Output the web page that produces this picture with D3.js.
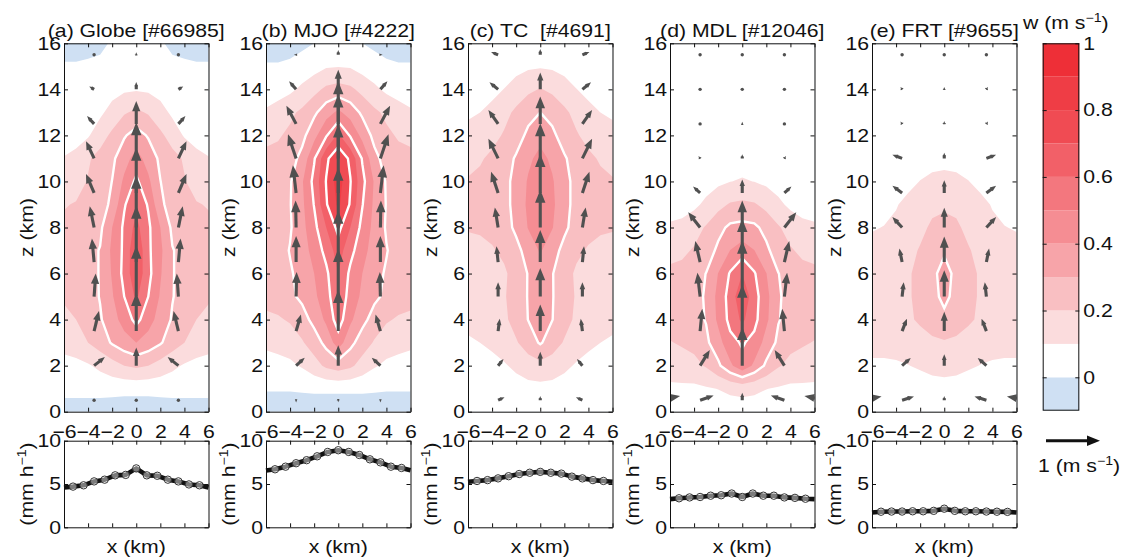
<!DOCTYPE html>
<html>
<head>
<meta charset="utf-8">
<title>Composite updraft cross-sections</title>
<script src="https://cdnjs.cloudflare.com/ajax/libs/d3/7.8.5/d3.min.js"></script>
<style>
  body { margin: 0; background: #fff; }
  svg text { font-family: "Liberation Sans", Arial, Helvetica, sans-serif; fill: #111; }
</style>
</head>
<body>
<svg id="fig" width="1126" height="557"></svg>
<script>
// ---- data -------------------------------------------------------------
// vertical velocity w (m/s) on a half grid, x = 0..6 km (field is mirrored), z = 0..16 km
const gridX = [0, 1, 2, 3, 4, 5, 6];
const gridZ = [0, 1, 2, 3, 4, 5, 6, 7, 8, 9, 10, 11, 12, 13, 14, 15, 16];

const wGlobe = [
  [-0.06, -0.06, -0.06, -0.06, -0.06, -0.06, -0.06],
  [0.03, 0.03, 0.035, 0.04, 0.04, 0.04, 0.04],
  [0.22, 0.20, 0.16, 0.12, 0.09, 0.07, 0.06],
  [0.40, 0.36, 0.31, 0.25, 0.20, 0.16, 0.14],
  [0.53, 0.44, 0.36, 0.29, 0.24, 0.20, 0.18],
  [0.62, 0.50, 0.39, 0.305, 0.26, 0.23, 0.21],
  [0.68, 0.53, 0.41, 0.305, 0.27, 0.24, 0.22],
  [0.69, 0.52, 0.42, 0.305, 0.27, 0.24, 0.22],
  [0.63, 0.52, 0.40, 0.28, 0.24, 0.22, 0.215],
  [0.58, 0.49, 0.32, 0.26, 0.22, 0.205, 0.195],
  [0.52, 0.42, 0.302, 0.24, 0.205, 0.17, 0.15],
  [0.44, 0.36, 0.28, 0.23, 0.19, 0.13, 0.105],
  [0.34, 0.29, 0.22, 0.16, 0.09, 0.06, 0.05],
  [0.22, 0.19, 0.14, 0.08, 0.05, 0.03, 0.02],
  [0.09, 0.085, 0.06, 0.04, 0.03, 0.02, 0.01],
  [0.04, 0.04, 0.03, 0.02, 0.015, 0.01, 0.01],
  [0.02, 0.02, 0.01, -0.02, -0.03, -0.04, -0.04]
];
const wMJO = [
  [-0.07, -0.07, -0.07, -0.07, -0.07, -0.07, -0.07],
  [0.02, 0.02, 0.02, 0.015, 0.01, 0.01, 0.01],
  [0.25, 0.22, 0.16, 0.11, 0.08, 0.07, 0.06],
  [0.45, 0.33, 0.25, 0.19, 0.15, 0.13, 0.12],
  [0.55, 0.42, 0.33, 0.26, 0.21, 0.19, 0.19],
  [0.58, 0.46, 0.38, 0.32, 0.28, 0.24, 0.215],
  [0.60, 0.48, 0.40, 0.33, 0.29, 0.25, 0.23],
  [0.65, 0.53, 0.44, 0.35, 0.305, 0.26, 0.24],
  [0.73, 0.60, 0.47, 0.37, 0.29, 0.26, 0.25],
  [0.82, 0.69, 0.505, 0.38, 0.295, 0.26, 0.25],
  [0.85, 0.705, 0.53, 0.39, 0.29, 0.25, 0.24],
  [0.78, 0.68, 0.49, 0.33, 0.26, 0.23, 0.22],
  [0.62, 0.49, 0.37, 0.27, 0.22, 0.19, 0.18],
  [0.42, 0.36, 0.28, 0.22, 0.18, 0.14, 0.11],
  [0.24, 0.22, 0.17, 0.12, 0.08, 0.06, 0.06],
  [0.095, 0.09, 0.06, 0.04, 0.02, 0.01, 0.01],
  [0.02, 0.015, 0.0, -0.02, -0.04, -0.05, -0.05]
];
const wTC = [
  [0.03, 0.03, 0.02, 0.02, 0.02, 0.02, 0.02],
  [0.07, 0.07, 0.06, 0.05, 0.05, 0.04, 0.04],
  [0.17, 0.15, 0.12, 0.09, 0.07, 0.06, 0.05],
  [0.31, 0.25, 0.19, 0.15, 0.12, 0.10, 0.09],
  [0.34, 0.302, 0.24, 0.18, 0.15, 0.13, 0.12],
  [0.35, 0.305, 0.25, 0.19, 0.16, 0.14, 0.13],
  [0.37, 0.305, 0.24, 0.185, 0.17, 0.15, 0.14],
  [0.41, 0.34, 0.27, 0.22, 0.19, 0.18, 0.18],
  [0.46, 0.405, 0.32, 0.26, 0.23, 0.21, 0.205],
  [0.48, 0.42, 0.33, 0.27, 0.25, 0.23, 0.22],
  [0.47, 0.41, 0.33, 0.27, 0.24, 0.22, 0.205],
  [0.43, 0.38, 0.31, 0.26, 0.22, 0.19, 0.18],
  [0.37, 0.32, 0.26, 0.21, 0.17, 0.14, 0.12],
  [0.30, 0.27, 0.22, 0.17, 0.13, 0.10, 0.09],
  [0.205, 0.18, 0.14, 0.102, 0.07, 0.05, 0.05],
  [0.09, 0.085, 0.07, 0.05, 0.04, 0.03, 0.03],
  [0.05, 0.05, 0.04, 0.03, 0.02, 0.02, 0.02]
];
const wMDL = [
  [0.05, 0.05, 0.04, 0.03, 0.03, 0.02, 0.02],
  [0.13, 0.12, 0.102, 0.09, 0.08, 0.08, 0.08],
  [0.47, 0.38, 0.28, 0.21, 0.17, 0.16, 0.15],
  [0.51, 0.47, 0.36, 0.28, 0.23, 0.21, 0.195],
  [0.62, 0.53, 0.42, 0.305, 0.27, 0.255, 0.245],
  [0.68, 0.54, 0.43, 0.31, 0.27, 0.255, 0.25],
  [0.60, 0.51, 0.402, 0.302, 0.26, 0.23, 0.22],
  [0.45, 0.402, 0.32, 0.25, 0.21, 0.18, 0.17],
  [0.33, 0.32, 0.27, 0.21, 0.16, 0.12, 0.11],
  [0.22, 0.21, 0.17, 0.12, 0.08, 0.07, 0.07],
  [0.11, 0.098, 0.08, 0.06, 0.05, 0.04, 0.04],
  [0.05, 0.05, 0.04, 0.03, 0.03, 0.03, 0.03],
  [0.03, 0.03, 0.03, 0.02, 0.02, 0.02, 0.02],
  [0.02, 0.02, 0.02, 0.02, 0.02, 0.02, 0.02],
  [0.02, 0.02, 0.02, 0.02, 0.02, 0.02, 0.02],
  [0.01, 0.01, 0.01, 0.01, 0.01, 0.01, 0.01],
  [0.01, 0.01, 0.01, 0.01, 0.01, 0.01, 0.01]
];
const wFRT = [
  [0.04, 0.04, 0.04, 0.03, 0.03, 0.03, 0.03],
  [0.06, 0.06, 0.06, 0.06, 0.06, 0.06, 0.06],
  [0.14, 0.13, 0.11, 0.098, 0.09, 0.09, 0.09],
  [0.19, 0.18, 0.16, 0.14, 0.13, 0.12, 0.12],
  [0.28, 0.25, 0.215, 0.185, 0.15, 0.14, 0.14],
  [0.32, 0.275, 0.225, 0.19, 0.16, 0.15, 0.15],
  [0.33, 0.28, 0.225, 0.19, 0.16, 0.15, 0.15],
  [0.29, 0.26, 0.21, 0.165, 0.14, 0.13, 0.12],
  [0.24, 0.22, 0.17, 0.14, 0.115, 0.102, 0.095],
  [0.18, 0.17, 0.14, 0.12, 0.095, 0.08, 0.07],
  [0.13, 0.12, 0.102, 0.08, 0.06, 0.05, 0.05],
  [0.07, 0.07, 0.06, 0.05, 0.04, 0.04, 0.04],
  [0.04, 0.04, 0.04, 0.03, 0.03, 0.03, 0.03],
  [0.03, 0.03, 0.03, 0.03, 0.03, 0.03, 0.03],
  [0.03, 0.03, 0.03, 0.03, 0.03, 0.03, 0.03],
  [0.02, 0.02, 0.02, 0.02, 0.02, 0.02, 0.02],
  [0.02, 0.02, 0.02, 0.02, 0.02, 0.02, 0.02]
];

// shading levels and their colours (first colour = below 0)
const levels = [0, 0.1, 0.2, 0.3, 0.4, 0.5, 0.6, 0.7, 0.8, 0.9];
const levelColors = ["#cfe0f3", "#ffffff", "#fbdcdd", "#f9bfc2", "#f7a4a9", "#f58d93",
                     "#f3777e", "#f26068", "#f04b53", "#ef3d45", "#ee2f37"];
const whiteLines = [0.3, 0.5, 0.7];
const barTicks = [0, 0.2, 0.4, 0.6, 0.8, 1];

const arrowX = [-7, -3.5, 0, 3.5, 7];
const arrowZ = [0.5, 2, 3.5, 5, 6.5, 8, 9.5, 11, 12.5, 14, 15.5];
const uGlobe = [0, -0.2, -0.09, -0.03, 0.04, 0.08, 0.15, 0.15, 0.13, 0.09, 0];      // at x = +3.5
const uMJO   = [0, -0.16, -0.09, -0.01, 0, 0.01, 0.06, 0.15, 0.18, 0.13, 0.04];
const uTC    = [-0.12, -0.1, -0.03, 0, 0.03, 0.06, 0.13, 0.18, 0.18, 0.16, 0.13];
const uMDL   = [-0.25, -0.18, -0.04, 0.05, 0.09, 0.22, 0.13, 0.03, 0, 0, 0];
const uFRT   = [-0.22, -0.16, -0.09, -0.03, 0.05, 0.18, 0.18, 0.18, 0.03, 0.03, 0.01];
const uOutGlobe = [0, 0, 0, 0, 0, 0, 0, 0, 0, 0, 0];                               // at x = +7
const uOutMJO   = [0, 0, 0, 0, 0, 0, 0, 0, 0, 0, 0];
const uOutTC    = [0, 0, 0, 0, 0, 0, 0, 0, 0, 0, 0];
const uOutMDL   = [-0.41, -0.12, 0, 0, 0, 0, 0, 0, 0, 0, 0];
const uOutFRT   = [-0.40, -0.10, 0, 0, 0, 0, 0, 0, 0, 0, 0];

// surface rain rate (mm/h)
const rainX = [-6, -5.25, -4.375, -3.5, -2.625, -1.75, -0.875, 0, 0.875, 1.75, 2.625, 3.5, 4.375, 5.25, 6];
const rainGlobe = [4.6, 4.7, 4.85, 5.3, 5.5, 6.0, 6.05, 6.8, 6.0, 5.95, 5.5, 5.3, 4.95, 4.85, 4.6];
const rainMJO   = [6.55, 6.7, 7.0, 7.4, 7.75, 8.2, 8.7, 8.9, 8.7, 8.35, 7.85, 7.5, 7.0, 6.85, 6.6];
const rainTC    = [5.25, 5.35, 5.45, 5.65, 5.9, 6.15, 6.3, 6.4, 6.3, 6.2, 5.85, 5.65, 5.45, 5.35, 5.25];
const rainMDL   = [3.25, 3.35, 3.45, 3.5, 3.65, 3.7, 3.9, 3.5, 3.9, 3.65, 3.65, 3.45, 3.4, 3.3, 3.25];
const rainFRT   = [1.7, 1.8, 1.82, 1.82, 1.85, 1.85, 1.9, 2.15, 1.9, 1.85, 1.85, 1.82, 1.8, 1.78, 1.7];

const titles = ["(a) Globe [#66985]", "(b) MJO [#4222]", "(c) TC  [#4691]", "(d) MDL [#12046]", "(e) FRT [#9655]"];

const panels = [
  { w: wGlobe, u: uGlobe, uOut: uOutGlobe, rain: rainGlobe },
  { w: wMJO, u: uMJO, uOut: uOutMJO, rain: rainMJO },
  { w: wTC, u: uTC, uOut: uOutTC, rain: rainTC },
  { w: wMDL, u: uMDL, uOut: uOutMDL, rain: rainMDL },
  { w: wFRT, u: uFRT, uOut: uOutFRT, rain: rainFRT }
];

// ---- layout -------------------------------------------------------------
const panelLeft = [64, 266, 468, 670, 872];
const panelW = 144.5;
const topY = 43.3, botY = 411.7;
const rainTop = 440.7, rainBot = 527.3;
const SX = 1.18;          // the original font is wider than Liberation Sans
const U_PX = 54, W_PX = 82; // px per m/s for arrows
const arrowColor = "#505050";

const svg = d3.select("#fig");
const defs = svg.append("defs");

function styleAxis(sel) {
  sel.attr("font-size", 18).attr("font-family", null);
  sel.selectAll(".tick text").attr("transform", `scale(${SX},1)`);
  sel.selectAll(".tick line").attr("stroke", "#111");
  sel.select(".domain").attr("stroke", "#111");
}

function boxAxes(g, xs, ys, xTicks, yTicks, showX) {
  const [x0, x1] = xs.range(), [y0, y1] = ys.range();
  g.append("g").attr("transform", `translate(0,${y1})`)
    .call(d3.axisTop(xs).tickValues(xTicks).tickSizeInner(-4).tickSizeOuter(0).tickFormat(""))
    .call(styleAxis);
  const bx = d3.axisBottom(xs).tickValues(xTicks).tickSizeInner(-4).tickSizeOuter(0).tickPadding(13.3);
  if (!showX) bx.tickFormat("");
  g.append("g").attr("transform", `translate(0,${y0})`).call(bx).call(styleAxis);
  g.append("g").attr("transform", `translate(${x0},0)`)
    .call(d3.axisLeft(ys).tickValues(yTicks).tickSizeInner(-4).tickSizeOuter(0).tickPadding(2.5))
    .call(styleAxis);
  g.append("g").attr("transform", `translate(${x1},0)`)
    .call(d3.axisRight(ys).tickValues(yTicks).tickSizeInner(-4).tickSizeOuter(0).tickFormat(""))
    .call(styleAxis);
}

// bilinear value of the mirrored half grid
function wAt(w, x, z) {
  const ax = Math.min(Math.abs(x), gridX[gridX.length - 1]);
  const i = Math.min(d3.bisectRight(gridX, ax) - 1, gridX.length - 2);
  const j = Math.min(d3.bisectRight(gridZ, z) - 1, gridZ.length - 2);
  const fx = (ax - gridX[i]) / (gridX[i + 1] - gridX[i]);
  const fz = (z - gridZ[j]) / (gridZ[j + 1] - gridZ[j]);
  return (1 - fz) * ((1 - fx) * w[j][i] + fx * w[j][i + 1]) +
         fz * ((1 - fx) * w[j + 1][i] + fx * w[j + 1][i + 1]);
}

function drawArrow(g, x0, y0, dx, dy, color, width) {
  const len = Math.hypot(dx, dy);
  if (len < 2) {
    g.append("circle").attr("cx", x0).attr("cy", y0).attr("r", 1.7).attr("fill", color);
    return;
  }
  const hl = Math.min(13, Math.max(3.2, 0.38 * len + 1.5)), hw = hl * 0.8;
  const ux = dx / len, uy = dy / len;
  const bx = x0 + dx - ux * hl, by = y0 + dy - uy * hl;
  g.append("line").attr("x1", x0).attr("y1", y0).attr("x2", bx + ux).attr("y2", by + uy)
    .attr("stroke", color).attr("stroke-width", width);
  g.append("path")
    .attr("d", `M${x0 + dx},${y0 + dy}L${bx - uy * hw / 2},${by + ux * hw / 2}L${bx + uy * hw / 2},${by - ux * hw / 2}Z`)
    .attr("fill", color);
}

function rotLabel(x, y, parts) {
  const t = svg.append("text").attr("font-size", 18).attr("text-anchor", "middle")
    .attr("transform", `translate(${x},${y}) rotate(-90) scale(${SX},1)`);
  parts.forEach(p => t.append("tspan").text(p[0]).attr("font-size", p[1] || null).attr("dy", p[2] || null));
  return t;
}

panels.forEach((p, k) => {
  const left = panelLeft[k];
  const xs = d3.scaleLinear().domain([-6, 6]).range([left, left + panelW]);
  const zs = d3.scaleLinear().domain([0, 16]).range([botY, topY]);

  defs.append("clipPath").attr("id", "clip" + k).append("rect")
    .attr("x", xs(-6)).attr("y", zs(16)).attr("width", xs(6) - xs(-6)).attr("height", zs(0) - zs(16));
  const plot = svg.append("g").attr("clip-path", `url(#clip${k})`);

  // mirrored full grid, row-major in z
  const fullX = gridX.slice(1).reverse().map(d => -d).concat(gridX);
  const values = p.w.flatMap(row => row.slice(1).reverse().concat(row));
  const nx = fullX.length, nz = gridZ.length;
  const gx = d3.scaleLinear().domain([0.5, nx - 0.5]).range([xs(fullX[0]), xs(fullX[nx - 1])]);
  const gz = d3.scaleLinear().domain([0.5, nz - 0.5]).range([zs(gridZ[0]), zs(gridZ[nz - 1])]);
  const path = d3.geoPath(d3.geoTransform({ point(a, b) { this.stream.point(gx(a), gz(b)); } }));

  plot.append("rect").attr("x", xs(-6) - 20).attr("y", zs(16) - 20)
    .attr("width", panelW + 40).attr("height", botY - topY + 40).attr("fill", levelColors[0]);
  plot.selectAll("path.band")
    .data(d3.contours().size([nx, nz]).thresholds(levels)(values))
    .join("path").attr("class", "band").attr("d", path)
    .attr("fill", (d, i) => levelColors[i + 1]);
  plot.selectAll("path.iso")
    .data(d3.contours().size([nx, nz]).thresholds(whiteLines)(values))
    .join("path").attr("class", "iso").attr("d", path)
    .attr("fill", "none").attr("stroke", "#fff").attr("stroke-width", 2.4);

  // wind vectors
  const ag = plot.append("g");
  arrowZ.forEach((z, r) => arrowX.forEach(x => {
    const ax = Math.abs(x);
    let u = 0;
    if (ax === 3.5) u = Math.sign(x) * p.u[r];
    else if (ax === 7) u = Math.sign(x) * p.uOut[r];
    const w = wAt(p.w, x, z);
    drawArrow(ag, xs(x), zs(z), u * U_PX, -w * W_PX, arrowColor, 3.1);
  }));

  boxAxes(svg.append("g"), xs, zs, [-6, -4, -2, 0, 2, 4, 6], [0, 2, 4, 6, 8, 10, 12, 14, 16], true);

  svg.append("text").attr("font-size", 18).attr("text-anchor", "middle").style("white-space", "pre")
    .attr("transform", `translate(${(xs(-6) + xs(6)) / 2},37) scale(${SX},1)`).text(titles[k]);
  rotLabel(left - 31, (topY + botY) / 2, [["z (km)"]]);

  // rain rate panel
  const ys = d3.scaleLinear().domain([0, 10]).range([rainBot, rainTop]);
  const rg = svg.append("g");
  const pts = rainX.map((x, i) => [x, p.rain[i]]);
  rg.append("path").datum(pts)
    .attr("d", d3.line().x(d => xs(d[0])).y(d => ys(d[1])))
    .attr("fill", "none").attr("stroke", "#111").attr("stroke-width", 4.6).attr("stroke-linejoin", "round");
  rg.selectAll("circle").data(pts.filter(d => Math.abs(d[0]) < 6)).join("circle")
    .attr("cx", d => xs(d[0])).attr("cy", d => ys(d[1])).attr("r", 3.7)
    .attr("fill", "rgba(255,255,255,0.45)").attr("stroke", "#333").attr("stroke-width", 1);
  boxAxes(svg.append("g"), xs, ys, [-6, -4, -2, 0, 2, 4, 6], [0, 5, 10], false);

  svg.append("text").attr("font-size", 18).attr("text-anchor", "middle")
    .attr("transform", `translate(${(xs(-6) + xs(6)) / 2},553) scale(${SX},1)`).text("x (km)");
  rotLabel(left - 31, (rainTop + rainBot) / 2, [["(mm h"], ["\u22121", 12, -7], [")", 18, 7]]);
});

// ---- colour bar -----------------------------------------------------------
const barX0 = 1042.7, barX1 = 1079.3;
const cs = d3.scaleLinear().domain([-0.1, 1]).range([410.7, 43.3]);
const bounds = [-0.1].concat(levels, [1]);
const cb = svg.append("g");
levelColors.forEach((c, i) => {
  cb.append("rect").attr("x", barX0).attr("width", barX1 - barX0)
    .attr("y", cs(bounds[i + 1])).attr("height", cs(bounds[i]) - cs(bounds[i + 1]))
    .attr("fill", c);
});
cb.append("rect").attr("x", barX0 + 0.5).attr("y", cs(1) + 0.5).attr("width", barX1 - barX0 - 1)
  .attr("height", cs(-0.1) - cs(1) - 1).attr("fill", "none").attr("stroke", "#111");
cb.append("g").attr("transform", `translate(${barX1},0)`)
  .call(d3.axisRight(cs).tickValues(barTicks).tickFormat(d3.format("~g"))
    .tickSizeInner(-4).tickSizeOuter(0).tickPadding(3.4))
  .call(styleAxis).select(".domain").remove();
cb.append("g").attr("transform", `translate(${barX0},0)`)
  .call(d3.axisLeft(cs).tickValues(barTicks).tickSizeInner(-4).tickSizeOuter(0).tickFormat(""))
  .call(styleAxis).select(".domain").remove();

const ct = svg.append("text").attr("font-size", 18)
  .attr("transform", `translate(1023,29) scale(${SX},1)`);
ct.append("tspan").text("w (m s");
ct.append("tspan").text("\u22121").attr("font-size", 12).attr("dy", -7);
ct.append("tspan").text(")").attr("dy", 7);

// reference vector
drawArrow(svg.append("g"), 1046, 440.7, 1 * U_PX, 0, "#111", 3);
const lt = svg.append("text").attr("font-size", 18)
  .attr("transform", `translate(1038,472) scale(${SX},1)`);
lt.append("tspan").text("1 (m s");
lt.append("tspan").text("\u22121").attr("font-size", 12).attr("dy", -7);
lt.append("tspan").text(")").attr("dy", 7);
</script>
</body>
</html>
